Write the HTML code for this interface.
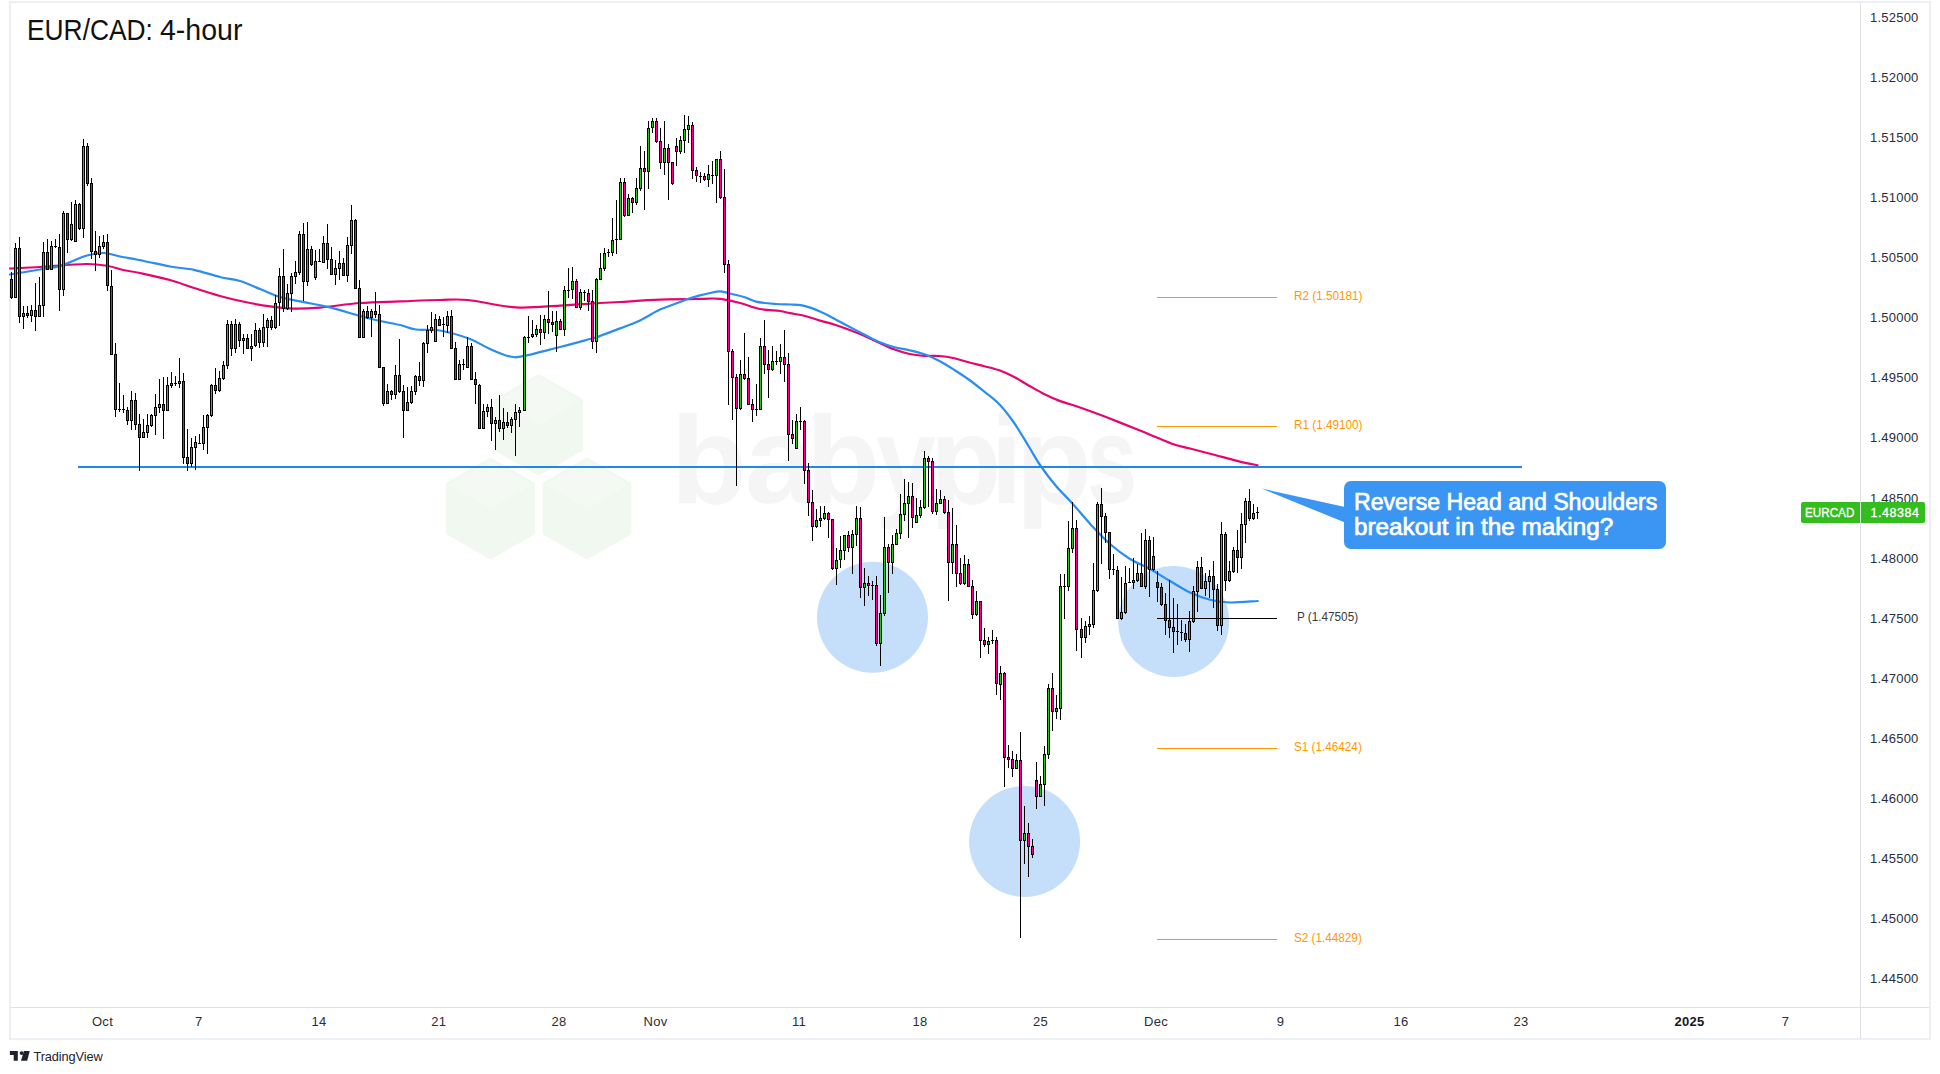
<!DOCTYPE html>
<html lang="en"><head><meta charset="utf-8"><title>EUR/CAD: 4-hour</title>
<style>
html,body{margin:0;padding:0;background:#fff;}
body{width:1940px;height:1074px;position:relative;overflow:hidden;font-family:"Liberation Sans",sans-serif;color:#131722;}
#frame{position:absolute;left:9px;top:1px;width:1918px;height:1035px;border:2px solid #edeff4;box-sizing:content-box;}
#vaxis{position:absolute;left:1860px;top:3px;width:1px;height:1035px;background:#e0e0e3;}
#haxis{position:absolute;left:11px;top:1007px;width:1918px;height:1px;background:#e0e0e3;}
.pl{position:absolute;left:1870px;width:52px;height:16px;line-height:16px;font-size:13px;letter-spacing:0.22px;color:#2a2e39;white-space:nowrap;}
.tl{position:absolute;top:1014px;width:60px;text-align:center;height:16px;line-height:16px;font-size:13px;letter-spacing:0.3px;color:#2a2e39;white-space:nowrap;}
.tl.b{font-weight:bold;color:#131722;}
#title span{position:absolute;top:12.85px;font-size:29px;line-height:34px;color:#111;white-space:nowrap;transform-origin:0 0;}
#t1{left:26.8px;transform:scaleX(0.9086);}
#t2{left:160px;transform:scaleX(0.983);}
svg{position:absolute;left:0;top:0;}
.pvl{position:absolute;left:1157px;width:120px;height:1px;}
.pvt{position:absolute;left:1294px;font-size:12.5px;line-height:16px;height:16px;transform-origin:0 0;transform:scaleX(0.938);white-space:nowrap;}
#callout{position:absolute;left:1344px;top:481px;width:322px;height:68px;border-radius:7px;background:#3b95f3;}
#callout span{position:absolute;left:9.6px;color:#fff;font-size:23px;line-height:24px;white-space:nowrap;transform-origin:0 0;-webkit-text-stroke:0.7px #fff;}
#c1{top:9.1px;transform:scaleX(1.005);}
#c2{top:33.5px;transform:scaleX(1.056);}
#sym{position:absolute;left:1801px;top:502px;width:59px;height:21px;background:#33bd1f;color:#fff;font-size:12.5px;line-height:22.4px;border-radius:2px 0 0 2px;overflow:hidden;-webkit-text-stroke:0.3px #fff;}
#sym span{position:absolute;left:4.2px;transform-origin:0 0;transform:scaleX(0.935);}
#last{position:absolute;left:1861px;top:502px;width:64px;height:21px;background:#33bd1f;color:#fff;font-size:12.5px;line-height:22.4px;border-radius:0 2px 2px 0;overflow:hidden;-webkit-text-stroke:0.3px #fff;}
#last span{position:absolute;left:9.5px;letter-spacing:0.55px;}
#tv{position:absolute;left:33.4px;top:1048px;font-size:12.8px;letter-spacing:-0.1px;line-height:18px;color:#1e222d;white-space:nowrap;}
#wm span{position:absolute;top:389.5px;font-size:125px;line-height:140px;font-weight:bold;color:#f5f5f6;white-space:nowrap;transform-origin:0 0;}
</style></head><body>
<div id="frame"></div>
<div id="wm"><span style="left:670.8px;transform:scaleX(1.0)">b</span><span style="left:744.7px;transform:scaleX(1.0)">a</span><span style="left:806.0px;transform:scaleX(0.97)">b</span><span style="left:875.9px;transform:scaleX(0.86)">y</span><span style="left:930.1px;transform:scaleX(0.93)">p</span><span style="left:990.6px;transform:scaleX(0.9)">i</span><span style="left:1015.5px;transform:scaleX(1.0)">p</span><span style="left:1086.7px;transform:scaleX(0.72)">s</span></div>
<svg width="1940" height="1074" viewBox="0 0 1940 1074">
<g><polygon points="538.7,377.3 580.1,401.1 580.1,448.7 538.7,472.5 497.3,448.7 497.3,401.1" fill="#f0f8ef" stroke="#f0f8ef" stroke-width="6.0" stroke-linejoin="round"/><polygon points="538.7,377.3 580.1,401.1 538.7,424.9 497.3,401.1" fill="#f4faf3"/><polygon points="490.5,460.9 531.9,484.7 531.9,532.3 490.5,556.1 449.1,532.3 449.1,484.7" fill="#f0f8ef" stroke="#f0f8ef" stroke-width="6.0" stroke-linejoin="round"/><polygon points="490.5,460.9 531.9,484.7 490.5,508.5 449.1,484.7" fill="#f4faf3"/><polygon points="587.0,460.9 628.4,484.7 628.4,532.3 587.0,556.1 545.6,532.3 545.6,484.7" fill="#f0f8ef" stroke="#f0f8ef" stroke-width="6.0" stroke-linejoin="round"/><polygon points="587.0,460.9 628.4,484.7 587.0,508.5 545.6,484.7" fill="#f4faf3"/></g>
<g fill="#c5dffa">
<circle cx="872.5" cy="617.3" r="55.5"/>
<circle cx="1024.6" cy="841.4" r="55.5"/>
<circle cx="1173.7" cy="621.4" r="55.5"/>
</g>
<path d="M10 268.5C15.0 268.2 27.3 267.8 40 267C52.7 266.2 74.7 264.2 86 264C97.3 263.8 101.8 265.0 108 266C114.2 267.0 117.7 268.8 123 270C128.3 271.2 132.2 271.3 140 273C147.8 274.7 161.0 277.5 170 280C179.0 282.5 185.7 285.3 194 288C202.3 290.7 210.7 293.5 220 296C229.3 298.5 241.3 301.2 250 303C258.7 304.8 265.0 305.7 272 306.6C279.0 307.5 284.0 308.4 292 308.6C300.0 308.8 308.7 308.5 320 307.6C331.3 306.7 346.7 304.0 360 303C373.3 302.0 386.7 301.9 400 301.4C413.3 300.9 428.7 300.2 440 300C451.3 299.8 455.3 298.8 468 300C480.7 301.2 500.7 306.5 516 307.4C531.3 308.3 546.0 306.3 560 305.6C574.0 304.9 590.0 303.6 600 303C610.0 302.4 610.0 302.6 620 302C630.0 301.4 646.7 300.1 660 299.6C673.3 299.1 690.0 298.9 700 298.8C710.0 298.7 713.3 298.1 720 298.8C726.7 299.5 733.3 301.3 740 303C746.7 304.7 753.3 307.7 760 309C766.7 310.3 775.0 310.3 780 311C785.0 311.7 785.8 312.4 790 313.2C794.2 314.0 800.0 314.8 805 316C810.0 317.2 815.0 319.2 820 320.6C825.0 322.1 829.8 323.1 834.8 324.7C839.8 326.3 844.8 328.1 849.8 330C854.8 331.9 859.7 333.8 864.7 336C869.7 338.2 874.7 340.8 879.7 343C884.7 345.2 889.6 347.7 894.6 349.5C899.6 351.3 904.6 352.9 909.6 354C914.6 355.1 919.5 355.5 924.5 355.8C929.5 356.1 934.5 355.6 939.5 356C944.5 356.4 949.4 357.2 954.4 358.3C959.4 359.4 964.4 361.2 969.4 362.5C974.4 363.8 979.3 364.9 984.3 366.2C989.3 367.5 994.3 368.5 999.3 370.3C1004.3 372.1 1009.2 374.4 1014.2 377C1019.2 379.6 1024.1 382.9 1029.1 385.7C1034.1 388.5 1039.0 391.5 1044 394C1049.0 396.5 1053.0 398.4 1059 400.6C1065.0 402.9 1072.2 404.8 1080 407.5C1087.8 410.2 1096.0 413.1 1106 417C1116.0 420.9 1131.5 427.2 1140 430.6C1148.5 434.0 1151.2 435.3 1156.8 437.6C1162.4 439.9 1168.0 442.5 1173.5 444.3C1179.0 446.1 1183.1 446.7 1190 448.5C1196.9 450.3 1206.7 452.8 1215 455C1223.3 457.2 1232.9 459.9 1240 461.6C1247.1 463.3 1254.6 464.7 1257.5 465.3" fill="none" stroke="#e60570" stroke-width="2.2" stroke-linejoin="round" stroke-linecap="round"/>
<path d="M10 274.5C15.0 273.7 31.7 270.9 40 269.5C48.3 268.1 52.3 268.3 60 266C67.7 263.7 78.7 257.9 86 255.7C93.3 253.5 98.3 252.9 104 253C109.7 253.1 113.3 255.2 120 256.5C126.7 257.8 135.7 259.3 144 261C152.3 262.7 161.7 265.0 170 266.5C178.3 268.0 185.7 268.1 194 269.8C202.3 271.6 212.3 275.1 220 277C227.7 278.9 233.3 279.0 240 281C246.7 283.0 253.3 286.3 260 289C266.7 291.7 273.3 294.9 280 297C286.7 299.1 291.7 299.7 300 301.4C308.3 303.1 320.0 305.0 330 307.4C340.0 309.8 351.7 313.7 360 316C368.3 318.3 373.3 319.5 380 321C386.7 322.5 394.0 323.6 400 325C406.0 326.4 409.3 328.6 416 329.5C422.7 330.4 431.0 328.9 440 330.5C449.0 332.1 461.7 335.9 470 339C478.3 342.1 483.3 346.1 490 349C496.7 351.9 504.3 355.3 510 356.5C515.7 357.7 515.7 357.6 524 356C532.3 354.4 549.0 349.8 560 347C571.0 344.2 583.3 340.8 590 339C596.7 337.2 595.0 337.8 600 336C605.0 334.2 613.3 331.0 620 328.4C626.7 325.8 633.3 323.5 640 320.4C646.7 317.3 653.3 312.7 660 309.6C666.7 306.5 675.0 303.9 680 302C685.0 300.1 686.7 299.3 690 298.2C693.3 297.1 696.7 296.3 700 295.4C703.3 294.5 706.7 293.7 710 293C713.3 292.3 717.0 291.4 720 291.4C723.0 291.4 724.0 292.1 728 293C732.0 293.9 739.3 295.6 744 297C748.7 298.4 750.7 300.4 756 301.6C761.3 302.8 770.3 303.5 776 304C781.7 304.5 785.7 304.3 790 304.5C794.3 304.7 797.0 304.2 802 305.4C807.0 306.5 814.5 309.1 820 311.4C825.5 313.7 829.8 316.4 834.8 319C839.8 321.6 844.8 324.4 849.8 327C854.8 329.6 859.7 332.2 864.7 334.8C869.7 337.4 874.7 340.2 879.7 342.3C884.7 344.4 889.6 345.9 894.6 347.2C899.6 348.5 904.6 349.0 909.6 350.2C914.6 351.4 919.5 352.5 924.5 354.3C929.5 356.1 934.5 358.4 939.5 361C944.5 363.6 949.4 366.8 954.4 370C959.4 373.2 964.4 376.4 969.4 380C974.4 383.6 979.3 387.6 984.3 391.6C989.3 395.7 994.3 399.1 999.3 404.3C1004.3 409.5 1009.2 415.9 1014.2 423C1019.2 430.1 1024.8 440.0 1029.1 447C1033.4 454.0 1035.5 458.5 1040 465C1044.5 471.5 1050.7 479.7 1056 486C1061.3 492.3 1066.0 496.3 1072 503C1078.0 509.7 1085.7 519.2 1092 526C1098.3 532.8 1103.7 538.5 1110 544C1116.3 549.5 1123.3 554.8 1130 559C1136.7 563.2 1143.3 565.3 1150 569C1156.7 572.7 1163.3 577.1 1170 581C1176.7 584.9 1183.3 589.4 1190 592.5C1196.7 595.6 1203.3 598.0 1210 599.7C1216.7 601.4 1222.0 602.3 1230 602.5C1238.0 602.7 1253.2 601.2 1257.8 601" fill="none" stroke="#2a8df1" stroke-width="2.2" stroke-linejoin="round" stroke-linecap="round"/>
<rect x="78" y="466" width="1444" height="2" fill="#2087f0"/>
<g shape-rendering="crispEdges">
<path d="M11 272h1V299h-1zM15 243h1V298h-1zM19 237h1V323h-1zM23 306h1V329h-1zM27 306h1V318h-1zM31 305h1V322h-1zM35 283h1V331h-1zM39 277h1V317h-1zM43 242h1V317h-1zM47 239h1V270h-1zM51 241h1V270h-1zM55 239h1V248h-1zM59 234h1V311h-1zM63 211h1V296h-1zM67 213h1V253h-1zM71 202h1V241h-1zM75 200h1V242h-1zM79 203h1V230h-1zM83 139h1V238h-1zM87 143h1V186h-1zM91 178h1V259h-1zM95 231h1V271h-1zM99 236h1V258h-1zM103 235h1V249h-1zM107 234h1V291h-1zM111 270h1V355h-1zM115 343h1V417h-1zM119 383h1V412h-1zM123 395h1V413h-1zM127 407h1V425h-1zM131 391h1V430h-1zM135 393h1V430h-1zM139 414h1V471h-1zM143 419h1V438h-1zM147 414h1V438h-1zM151 414h1V427h-1zM155 394h1V435h-1zM159 379h1V413h-1zM163 377h1V439h-1zM167 377h1V411h-1zM171 372h1V388h-1zM175 376h1V386h-1zM179 358h1V388h-1zM183 373h1V464h-1zM187 429h1V471h-1zM191 438h1V467h-1zM195 436h1V470h-1zM199 434h1V444h-1zM203 415h1V450h-1zM207 414h1V454h-1zM211 384h1V417h-1zM215 368h1V394h-1zM219 371h1V392h-1zM223 361h1V380h-1zM227 320h1V369h-1zM231 321h1V356h-1zM235 319h1V353h-1zM239 322h1V347h-1zM243 334h1V354h-1zM247 334h1V349h-1zM251 334h1V361h-1zM255 323h1V347h-1zM259 328h1V348h-1zM263 314h1V347h-1zM267 318h1V347h-1zM271 316h1V330h-1zM275 295h1V329h-1zM279 268h1V326h-1zM283 249h1V312h-1zM287 284h1V310h-1zM291 273h1V312h-1zM295 261h1V284h-1zM299 231h1V275h-1zM303 223h1V301h-1zM307 222h1V286h-1zM311 246h1V266h-1zM315 250h1V280h-1zM319 249h1V262h-1zM323 236h1V263h-1zM327 224h1V269h-1zM331 247h1V275h-1zM335 260h1V285h-1zM339 251h1V280h-1zM343 258h1V276h-1zM347 237h1V282h-1zM351 205h1V254h-1zM355 219h1V289h-1zM359 280h1V338h-1zM363 309h1V338h-1zM367 306h1V319h-1zM371 309h1V337h-1zM375 292h1V318h-1zM379 305h1V368h-1zM383 367h1V406h-1zM387 384h1V404h-1zM391 390h1V400h-1zM395 365h1V399h-1zM399 339h1V393h-1zM403 385h1V438h-1zM407 387h1V411h-1zM411 386h1V404h-1zM415 375h1V395h-1zM419 362h1V386h-1zM423 342h1V387h-1zM427 325h1V353h-1zM431 312h1V333h-1zM435 314h1V342h-1zM439 316h1V326h-1zM443 317h1V337h-1zM447 311h1V333h-1zM451 310h1V349h-1zM455 342h1V380h-1zM459 360h1V380h-1zM463 359h1V370h-1zM467 337h1V368h-1zM471 343h1V380h-1zM475 372h1V404h-1zM479 384h1V429h-1zM483 404h1V429h-1zM487 404h1V417h-1zM491 399h1V441h-1zM495 417h1V450h-1zM499 395h1V432h-1zM503 408h1V440h-1zM507 412h1V428h-1zM511 417h1V433h-1zM515 404h1V456h-1zM519 407h1V427h-1zM524 336h1V411h-1zM528 316h1V343h-1zM532 320h1V338h-1zM536 325h1V337h-1zM540 315h1V345h-1zM544 315h1V339h-1zM548 291h1V334h-1zM552 311h1V332h-1zM556 311h1V352h-1zM560 319h1V330h-1zM564 286h1V336h-1zM568 268h1V298h-1zM572 267h1V299h-1zM576 279h1V308h-1zM580 289h1V310h-1zM584 290h1V301h-1zM588 289h1V311h-1zM592 290h1V349h-1zM596 278h1V353h-1zM600 253h1V280h-1zM604 248h1V271h-1zM608 249h1V257h-1zM612 218h1V256h-1zM616 200h1V254h-1zM620 178h1V240h-1zM624 178h1V217h-1zM628 194h1V216h-1zM632 197h1V213h-1zM636 178h1V205h-1zM640 146h1V191h-1zM644 151h1V210h-1zM648 121h1V189h-1zM652 118h1V133h-1zM656 118h1V143h-1zM660 128h1V169h-1zM664 121h1V175h-1zM668 144h1V200h-1zM672 162h1V185h-1zM676 138h1V166h-1zM680 136h1V154h-1zM684 115h1V153h-1zM688 116h1V143h-1zM692 122h1V179h-1zM696 167h1V182h-1zM700 172h1V183h-1zM704 173h1V181h-1zM708 165h1V187h-1zM712 161h1V184h-1zM716 159h1V203h-1zM720 151h1V199h-1zM724 169h1V273h-1zM728 260h1V405h-1zM732 349h1V420h-1zM736 374h1V486h-1zM740 360h1V410h-1zM744 333h1V380h-1zM748 357h1V405h-1zM752 399h1V422h-1zM756 384h1V416h-1zM760 338h1V410h-1zM764 320h1V374h-1zM768 350h1V398h-1zM772 346h1V371h-1zM776 351h1V365h-1zM780 344h1V374h-1zM784 330h1V382h-1zM788 353h1V461h-1zM792 420h1V444h-1zM796 414h1V449h-1zM800 407h1V430h-1zM804 420h1V484h-1zM808 463h1V516h-1zM812 490h1V541h-1zM816 509h1V528h-1zM820 506h1V527h-1zM824 506h1V520h-1zM828 512h1V538h-1zM832 519h1V570h-1zM836 548h1V585h-1zM840 536h1V568h-1zM844 535h1V560h-1zM848 531h1V552h-1zM852 530h1V574h-1zM856 506h1V546h-1zM860 507h1V598h-1zM864 568h1V606h-1zM868 576h1V596h-1zM872 581h1V600h-1zM876 576h1V646h-1zM880 595h1V666h-1zM884 517h1V616h-1zM888 544h1V593h-1zM892 535h1V574h-1zM896 529h1V545h-1zM900 494h1V539h-1zM904 479h1V521h-1zM908 482h1V538h-1zM912 483h1V528h-1zM916 498h1V523h-1zM920 500h1V518h-1zM924 451h1V509h-1zM928 456h1V507h-1zM932 458h1V514h-1zM936 489h1V515h-1zM940 490h1V504h-1zM944 496h1V514h-1zM948 500h1V601h-1zM952 508h1V574h-1zM956 525h1V587h-1zM960 558h1V585h-1zM964 555h1V585h-1zM968 559h1V587h-1zM972 580h1V619h-1zM976 591h1V616h-1zM980 601h1V658h-1zM984 628h1V647h-1zM988 637h1V654h-1zM992 630h1V644h-1zM996 637h1V695h-1zM1000 666h1V700h-1zM1004 672h1V787h-1zM1008 745h1V768h-1zM1012 751h1V777h-1zM1016 754h1V769h-1zM1020 732h1V938h-1zM1024 806h1V864h-1zM1028 823h1V877h-1zM1032 839h1V858h-1zM1036 762h1V809h-1zM1040 776h1V797h-1zM1044 746h1V806h-1zM1048 684h1V759h-1zM1052 673h1V731h-1zM1056 695h1V719h-1zM1060 574h1V720h-1zM1064 574h1V619h-1zM1068 521h1V591h-1zM1072 502h1V553h-1zM1076 520h1V651h-1zM1081 618h1V658h-1zM1085 621h1V643h-1zM1089 616h1V635h-1zM1093 563h1V628h-1zM1097 502h1V592h-1zM1101 488h1V564h-1zM1105 513h1V543h-1zM1109 532h1V579h-1zM1113 554h1V575h-1zM1117 566h1V619h-1zM1121 577h1V620h-1zM1125 566h1V614h-1zM1129 568h1V583h-1zM1133 558h1V589h-1zM1137 564h1V582h-1zM1141 533h1V587h-1zM1145 529h1V589h-1zM1149 536h1V597h-1zM1153 537h1V571h-1zM1157 571h1V602h-1zM1161 583h1V606h-1zM1165 593h1V635h-1zM1169 580h1V638h-1zM1173 598h1V653h-1zM1177 604h1V645h-1zM1181 620h1V641h-1zM1185 624h1V642h-1zM1189 611h1V652h-1zM1193 586h1V623h-1zM1197 561h1V612h-1zM1201 557h1V589h-1zM1205 573h1V596h-1zM1209 570h1V598h-1zM1213 561h1V608h-1zM1217 584h1V631h-1zM1221 522h1V635h-1zM1225 532h1V591h-1zM1229 561h1V582h-1zM1233 547h1V573h-1zM1237 530h1V573h-1zM1241 513h1V569h-1zM1245 498h1V543h-1zM1249 489h1V521h-1zM1253 504h1V520h-1zM1257 507h1V519h-1z" fill="#000"/>
<path d="M10 279h3V298h-3zM14 248h3V298h-3zM18 248h3V317h-3zM22 313h3V317h-3zM26 313h3V316h-3zM30 310h3V316h-3zM34 310h3V317h-3zM38 305h3V317h-3zM42 252h3V306h-3zM46 252h3V270h-3zM50 246h3V270h-3zM54 246h3v1h-3zM58 247h3V290h-3zM62 213h3V290h-3zM66 213h3V240h-3zM70 224h3V240h-3zM74 204h3V242h-3zM78 204h3V229h-3zM82 146h3V229h-3zM86 146h3V184h-3zM90 183h3V252h-3zM94 251h3V255h-3zM98 246h3V255h-3zM102 242h3V247h-3zM106 242h3V286h-3zM110 286h3V355h-3zM114 354h3V410h-3zM118 409h3v1h-3zM122 409h3v1h-3zM126 410h3V421h-3zM130 400h3V421h-3zM134 400h3V425h-3zM138 424h3V438h-3zM142 432h3V438h-3zM146 425h3V433h-3zM150 415h3V426h-3zM154 407h3V416h-3zM158 404h3V408h-3zM162 404h3V411h-3zM166 385h3V411h-3zM170 383h3V386h-3zM174 383h3v1h-3zM178 381h3V384h-3zM182 381h3V458h-3zM186 457h3V464h-3zM190 447h3V464h-3zM194 442h3V448h-3zM198 443h3v1h-3zM202 427h3V444h-3zM206 415h3V428h-3zM210 385h3V416h-3zM214 385h3V391h-3zM218 378h3V391h-3zM222 365h3V379h-3zM226 324h3V366h-3zM230 324h3V349h-3zM234 324h3V349h-3zM238 324h3V341h-3zM242 338h3V341h-3zM246 338h3V349h-3zM250 346h3V349h-3zM254 330h3V346h-3zM258 330h3V343h-3zM262 327h3V343h-3zM266 320h3V328h-3zM270 320h3V328h-3zM274 303h3V328h-3zM278 276h3V303h-3zM282 276h3V309h-3zM286 293h3V309h-3zM290 276h3V294h-3zM294 272h3V277h-3zM298 234h3V273h-3zM302 234h3V282h-3zM306 249h3V282h-3zM310 249h3V265h-3zM314 261h3V278h-3zM318 261h3v1h-3zM322 243h3V263h-3zM326 243h3V260h-3zM330 259h3V275h-3zM334 268h3V275h-3zM338 263h3V269h-3zM342 263h3V276h-3zM346 245h3V276h-3zM350 220h3V246h-3zM354 220h3V289h-3zM358 288h3V338h-3zM362 311h3V338h-3zM366 311h3V318h-3zM370 311h3V318h-3zM374 311h3V315h-3zM378 314h3V368h-3zM382 367h3V404h-3zM386 391h3V404h-3zM390 391h3V395h-3zM394 375h3V395h-3zM398 375h3V392h-3zM402 391h3V411h-3zM406 402h3V411h-3zM410 391h3V403h-3zM414 376h3V392h-3zM418 376h3V381h-3zM422 343h3V381h-3zM426 330h3V344h-3zM430 327h3V331h-3zM434 319h3V342h-3zM438 319h3V326h-3zM442 324h3v1h-3zM446 316h3V326h-3zM450 316h3V349h-3zM454 348h3V380h-3zM458 364h3V380h-3zM462 364h3v1h-3zM466 346h3V368h-3zM470 346h3V380h-3zM474 379h3V385h-3zM478 385h3V429h-3zM482 411h3V429h-3zM486 407h3V412h-3zM490 407h3V424h-3zM494 420h3V424h-3zM498 420h3V429h-3zM502 422h3V429h-3zM506 422h3V426h-3zM510 419h3V426h-3zM514 412h3V420h-3zM518 410h3V413h-3zM523 337h3V411h-3zM527 337h3v1h-3zM531 334h3V337h-3zM535 329h3V335h-3zM539 329h3V333h-3zM543 319h3V333h-3zM547 319h3V323h-3zM551 322h3V325h-3zM555 321h3V336h-3zM559 321h3V330h-3zM563 290h3V330h-3zM567 290h3v1h-3zM571 281h3V290h-3zM575 281h3V308h-3zM579 292h3V308h-3zM583 292h3v1h-3zM587 293h3V302h-3zM591 301h3V342h-3zM595 279h3V342h-3zM599 268h3V280h-3zM603 253h3V269h-3zM607 252h3v1h-3zM611 240h3V253h-3zM615 239h3v1h-3zM619 182h3V240h-3zM623 182h3V216h-3zM627 198h3V216h-3zM631 198h3V203h-3zM635 188h3V203h-3zM639 168h3V189h-3zM643 168h3V172h-3zM647 128h3V172h-3zM651 121h3V128h-3zM655 121h3V142h-3zM659 141h3V163h-3zM663 148h3V163h-3zM667 148h3V163h-3zM671 162h3V184h-3zM675 146h3V152h-3zM679 140h3V152h-3zM683 129h3V141h-3zM687 125h3V130h-3zM691 125h3V171h-3zM695 170h3V176h-3zM699 176h3v1h-3zM703 176h3V180h-3zM707 174h3V180h-3zM711 175h3v1h-3zM715 159h3V176h-3zM719 159h3V198h-3zM723 197h3V265h-3zM727 264h3V352h-3zM731 351h3V378h-3zM735 377h3V409h-3zM739 374h3V409h-3zM743 374h3V379h-3zM747 378h3V405h-3zM751 404h3V410h-3zM755 409h3v1h-3zM759 346h3V410h-3zM763 346h3V365h-3zM767 364h3V370h-3zM771 361h3V370h-3zM775 361h3v1h-3zM779 357h3V362h-3zM783 357h3V365h-3zM787 364h3V435h-3zM791 434h3V439h-3zM795 421h3V449h-3zM799 421h3v1h-3zM803 421h3V471h-3zM807 470h3V503h-3zM811 502h3V527h-3zM815 520h3V527h-3zM819 518h3V521h-3zM823 513h3V519h-3zM827 513h3V520h-3zM831 519h3V569h-3zM835 560h3V569h-3zM839 550h3V560h-3zM843 535h3V551h-3zM847 535h3V548h-3zM851 534h3V548h-3zM855 518h3V535h-3zM859 518h3V588h-3zM863 583h3V588h-3zM867 583h3V586h-3zM871 585h3v1h-3zM875 585h3V644h-3zM879 613h3V644h-3zM883 547h3V614h-3zM887 547h3V563h-3zM891 544h3V563h-3zM895 533h3V545h-3zM899 514h3V534h-3zM903 503h3V515h-3zM907 496h3V504h-3zM911 496h3V518h-3zM915 515h3V523h-3zM919 507h3V516h-3zM923 458h3V508h-3zM927 458h3V462h-3zM931 461h3V512h-3zM935 503h3V512h-3zM939 499h3V504h-3zM943 499h3V513h-3zM947 512h3V563h-3zM951 544h3V563h-3zM955 544h3V574h-3zM959 573h3V584h-3zM963 564h3V584h-3zM967 564h3V587h-3zM971 586h3V615h-3zM975 601h3V615h-3zM979 601h3V641h-3zM983 640h3V645h-3zM987 641h3V645h-3zM991 640h3v1h-3zM995 640h3V684h-3zM999 673h3V685h-3zM1003 673h3V758h-3zM1007 757h3V760h-3zM1011 759h3V769h-3zM1015 760h3V769h-3zM1019 760h3V841h-3zM1023 833h3V841h-3zM1027 833h3V847h-3zM1031 846h3V855h-3zM1035 780h3V797h-3zM1039 784h3V797h-3zM1043 754h3V785h-3zM1047 688h3V755h-3zM1051 688h3V712h-3zM1055 708h3V712h-3zM1059 586h3V709h-3zM1063 586h3v1h-3zM1067 548h3V587h-3zM1071 528h3V549h-3zM1075 528h3V630h-3zM1080 629h3V638h-3zM1084 626h3V638h-3zM1088 624h3V627h-3zM1092 590h3V625h-3zM1096 504h3V591h-3zM1100 504h3V517h-3zM1104 516h3V533h-3zM1108 532h3V570h-3zM1112 569h3v1h-3zM1116 570h3V619h-3zM1120 612h3V619h-3zM1124 583h3V613h-3zM1128 582h3v1h-3zM1132 580h3V583h-3zM1136 573h3V581h-3zM1140 573h3V587h-3zM1144 540h3V587h-3zM1148 540h3V570h-3zM1152 556h3V570h-3zM1156 582h3V588h-3zM1160 587h3V605h-3zM1164 604h3V621h-3zM1168 620h3V628h-3zM1172 627h3V632h-3zM1176 631h3v1h-3zM1180 632h3v1h-3zM1184 633h3V640h-3zM1188 621h3V640h-3zM1192 591h3V622h-3zM1196 567h3V592h-3zM1200 567h3V589h-3zM1204 581h3V589h-3zM1208 576h3V582h-3zM1212 576h3V590h-3zM1216 589h3V626h-3zM1220 534h3V626h-3zM1224 534h3V581h-3zM1228 571h3V581h-3zM1232 550h3V572h-3zM1236 550h3V558h-3zM1240 524h3V558h-3zM1244 501h3V525h-3zM1248 501h3V519h-3zM1252 513h3V519h-3zM1256 512h3v1h-3z" fill="#000"/>
<path d="M15 249h1V297h-1zM23 314h1V316h-1zM31 311h1V315h-1zM39 306h1V316h-1zM43 253h1V305h-1zM51 247h1V269h-1zM63 214h1V289h-1zM71 225h1V239h-1zM75 205h1V241h-1zM83 147h1V228h-1zM99 247h1V254h-1zM103 243h1V246h-1zM131 401h1V420h-1zM143 433h1V437h-1zM147 426h1V432h-1zM151 416h1V425h-1zM155 408h1V415h-1zM159 405h1V407h-1zM167 386h1V410h-1zM171 384h1V385h-1zM179 382h1V383h-1zM191 448h1V463h-1zM195 443h1V447h-1zM203 428h1V443h-1zM207 416h1V427h-1zM211 386h1V415h-1zM219 379h1V390h-1zM223 366h1V378h-1zM227 325h1V365h-1zM235 325h1V348h-1zM243 339h1V340h-1zM251 347h1V348h-1zM255 331h1V345h-1zM263 328h1V342h-1zM267 321h1V327h-1zM275 304h1V327h-1zM279 277h1V302h-1zM287 294h1V308h-1zM291 277h1V293h-1zM295 273h1V276h-1zM299 235h1V272h-1zM307 250h1V281h-1zM315 262h1V277h-1zM323 244h1V262h-1zM335 269h1V274h-1zM339 264h1V268h-1zM347 246h1V275h-1zM351 221h1V245h-1zM363 312h1V337h-1zM371 312h1V317h-1zM387 392h1V403h-1zM395 376h1V394h-1zM407 403h1V410h-1zM411 392h1V402h-1zM415 377h1V391h-1zM423 344h1V380h-1zM427 331h1V343h-1zM431 328h1V330h-1zM435 320h1V341h-1zM447 317h1V325h-1zM459 365h1V379h-1zM467 347h1V367h-1zM483 412h1V428h-1zM487 408h1V411h-1zM495 421h1V423h-1zM503 423h1V428h-1zM511 420h1V425h-1zM515 413h1V419h-1zM519 411h1V412h-1zM524 338h1V410h-1zM532 335h1V336h-1zM536 330h1V334h-1zM544 320h1V332h-1zM556 322h1V335h-1zM564 291h1V329h-1zM572 282h1V289h-1zM580 293h1V307h-1zM596 280h1V341h-1zM600 269h1V279h-1zM604 254h1V268h-1zM612 241h1V252h-1zM620 183h1V239h-1zM628 199h1V215h-1zM636 189h1V202h-1zM640 169h1V188h-1zM648 129h1V171h-1zM652 122h1V127h-1zM664 149h1V162h-1zM680 141h1V151h-1zM684 130h1V140h-1zM688 126h1V129h-1zM708 175h1V179h-1zM716 160h1V175h-1zM740 375h1V408h-1zM760 347h1V409h-1zM772 362h1V369h-1zM780 358h1V361h-1zM796 422h1V448h-1zM816 521h1V526h-1zM820 519h1V520h-1zM824 514h1V518h-1zM836 561h1V568h-1zM840 551h1V559h-1zM844 536h1V550h-1zM852 535h1V547h-1zM856 519h1V534h-1zM864 584h1V587h-1zM880 614h1V643h-1zM884 548h1V613h-1zM892 545h1V562h-1zM896 534h1V544h-1zM900 515h1V533h-1zM904 504h1V514h-1zM908 497h1V503h-1zM916 516h1V522h-1zM920 508h1V515h-1zM924 459h1V507h-1zM936 504h1V511h-1zM940 500h1V503h-1zM952 545h1V562h-1zM964 565h1V583h-1zM976 602h1V614h-1zM988 642h1V644h-1zM1000 674h1V684h-1zM1016 761h1V768h-1zM1024 834h1V840h-1zM1040 785h1V796h-1zM1044 755h1V784h-1zM1048 689h1V754h-1zM1056 709h1V711h-1zM1060 587h1V708h-1zM1068 549h1V586h-1zM1072 529h1V548h-1zM1085 627h1V637h-1zM1089 625h1V626h-1zM1093 591h1V624h-1zM1097 505h1V590h-1zM1121 613h1V618h-1zM1125 584h1V612h-1zM1133 581h1V582h-1zM1137 574h1V580h-1zM1145 541h1V586h-1zM1153 557h1V569h-1zM1189 622h1V639h-1zM1193 592h1V621h-1zM1197 568h1V591h-1zM1205 582h1V588h-1zM1209 577h1V581h-1zM1221 535h1V625h-1zM1229 572h1V580h-1zM1233 551h1V571h-1zM1241 525h1V557h-1zM1245 502h1V524h-1zM1253 514h1V518h-1z" fill="#33c01f"/>
<path d="M11 280h1V297h-1zM19 249h1V316h-1zM27 314h1V315h-1zM35 311h1V316h-1zM47 253h1V269h-1zM59 248h1V289h-1zM67 214h1V239h-1zM79 205h1V228h-1zM87 147h1V183h-1zM91 184h1V251h-1zM95 252h1V254h-1zM107 243h1V285h-1zM111 287h1V354h-1zM115 355h1V409h-1zM127 411h1V420h-1zM135 401h1V424h-1zM139 425h1V437h-1zM163 405h1V410h-1zM183 382h1V457h-1zM187 458h1V463h-1zM215 386h1V390h-1zM231 325h1V348h-1zM239 325h1V340h-1zM247 339h1V348h-1zM259 331h1V342h-1zM271 321h1V327h-1zM283 277h1V308h-1zM303 235h1V281h-1zM311 250h1V264h-1zM327 244h1V259h-1zM331 260h1V274h-1zM343 264h1V275h-1zM355 221h1V288h-1zM359 289h1V337h-1zM367 312h1V317h-1zM375 312h1V314h-1zM379 315h1V367h-1zM383 368h1V403h-1zM391 392h1V394h-1zM399 376h1V391h-1zM403 392h1V410h-1zM419 377h1V380h-1zM439 320h1V325h-1zM451 317h1V348h-1zM455 349h1V379h-1zM471 347h1V379h-1zM475 380h1V384h-1zM479 386h1V428h-1zM491 408h1V423h-1zM499 421h1V428h-1zM507 423h1V425h-1zM540 330h1V332h-1zM548 320h1V322h-1zM552 323h1V324h-1zM560 322h1V329h-1zM576 282h1V307h-1zM588 294h1V301h-1zM592 302h1V341h-1zM624 183h1V215h-1zM632 199h1V202h-1zM644 169h1V171h-1zM656 122h1V141h-1zM660 142h1V162h-1zM668 149h1V162h-1zM672 163h1V183h-1zM676 147h1V151h-1zM692 126h1V170h-1zM696 171h1V175h-1zM704 177h1V179h-1zM720 160h1V197h-1zM724 198h1V264h-1zM728 265h1V351h-1zM732 352h1V377h-1zM736 378h1V408h-1zM744 375h1V378h-1zM748 379h1V404h-1zM752 405h1V409h-1zM764 347h1V364h-1zM768 365h1V369h-1zM784 358h1V364h-1zM788 365h1V434h-1zM792 435h1V438h-1zM804 422h1V470h-1zM808 471h1V502h-1zM812 503h1V526h-1zM828 514h1V519h-1zM832 520h1V568h-1zM848 536h1V547h-1zM860 519h1V587h-1zM868 584h1V585h-1zM876 586h1V643h-1zM888 548h1V562h-1zM912 497h1V517h-1zM928 459h1V461h-1zM932 462h1V511h-1zM944 500h1V512h-1zM948 513h1V562h-1zM956 545h1V573h-1zM960 574h1V583h-1zM968 565h1V586h-1zM972 587h1V614h-1zM980 602h1V640h-1zM984 641h1V644h-1zM996 641h1V683h-1zM1004 674h1V757h-1zM1008 758h1V759h-1zM1012 760h1V768h-1zM1020 761h1V840h-1zM1028 834h1V846h-1zM1032 847h1V854h-1zM1036 781h1V796h-1zM1052 689h1V711h-1zM1076 529h1V629h-1zM1081 630h1V637h-1zM1101 505h1V516h-1zM1105 517h1V532h-1zM1109 533h1V569h-1zM1117 571h1V618h-1zM1141 574h1V586h-1zM1149 541h1V569h-1zM1157 583h1V587h-1zM1161 588h1V604h-1zM1165 605h1V620h-1zM1169 621h1V627h-1zM1173 628h1V631h-1zM1185 634h1V639h-1zM1201 568h1V588h-1zM1213 577h1V589h-1zM1217 590h1V625h-1zM1225 535h1V580h-1zM1237 551h1V557h-1zM1249 502h1V518h-1z" fill="#ff0080"/>
</g>
<polygon points="1261.5,488.5 1345,507 1345,522.6" fill="#3b95f3"/>
<g fill="#1e222d" transform="translate(9.9,1050.9)">
<path d="M0 0h7.9v9.9H3.8V4.1H0z"/><circle cx="11.7" cy="2.2" r="1.9"/><path d="M14 0h5.8l-2.5 9.9h-6.2z"/>
</g>
</svg>
<div id="vaxis"></div><div id="haxis"></div>
<div id="title"><span id="t1">EUR/CAD: </span><span id="t2">4-hour</span></div>
<div class="pl" style="top:10.0px">1.52500</div>
<div class="pl" style="top:70.1px">1.52000</div>
<div class="pl" style="top:130.1px">1.51500</div>
<div class="pl" style="top:190.2px">1.51000</div>
<div class="pl" style="top:250.2px">1.50500</div>
<div class="pl" style="top:310.3px">1.50000</div>
<div class="pl" style="top:370.4px">1.49500</div>
<div class="pl" style="top:430.4px">1.49000</div>
<div class="pl" style="top:490.5px">1.48500</div>
<div class="pl" style="top:550.5px">1.48000</div>
<div class="pl" style="top:610.6px">1.47500</div>
<div class="pl" style="top:670.7px">1.47000</div>
<div class="pl" style="top:730.7px">1.46500</div>
<div class="pl" style="top:790.8px">1.46000</div>
<div class="pl" style="top:850.8px">1.45500</div>
<div class="pl" style="top:910.9px">1.45000</div>
<div class="pl" style="top:971.0px">1.44500</div>

<div class="tl" style="left:72.5px">Oct</div>
<div class="tl" style="left:168.7px">7</div>
<div class="tl" style="left:289.0px">14</div>
<div class="tl" style="left:408.7px">21</div>
<div class="tl" style="left:529.0px">28</div>
<div class="tl" style="left:625.5px">Nov</div>
<div class="tl" style="left:769.0px">11</div>
<div class="tl" style="left:890.0px">18</div>
<div class="tl" style="left:1010.5px">25</div>
<div class="tl" style="left:1126.0px">Dec</div>
<div class="tl" style="left:1250.5px">9</div>
<div class="tl" style="left:1371.0px">16</div>
<div class="tl" style="left:1491.0px">23</div>
<div class="tl b" style="left:1659.6px">2025</div>
<div class="tl" style="left:1755.4px">7</div>

<div class="pvl" style="top:296.5px;background:#ff9800"></div><div class="pvt" style="top:287.7px;left:1293.5px;color:#ff9800">R2 (1.50181)</div>
<div class="pvl" style="top:425.5px;background:#ff9800"></div><div class="pvt" style="top:416.7px;left:1293.5px;color:#ff9800">R1 (1.49100)</div>
<div class="pvl" style="top:617.5px;background:#000"></div><div class="pvt" style="top:608.7px;left:1297px;color:#3a3a3a">P (1.47505)</div>
<div class="pvl" style="top:747.5px;background:#ff9800"></div><div class="pvt" style="top:738.7px;left:1293.5px;color:#ff9800">S1 (1.46424)</div>
<div class="pvl" style="top:938.5px;background:#ff9800"></div><div class="pvt" style="top:929.7px;left:1293.5px;color:#ff9800">S2 (1.44829)</div>

<div id="callout"><span id="c1">Reverse Head and Shoulders </span><span id="c2">breakout in the making?</span></div>
<div id="sym"><span>EURCAD</span></div>
<div id="last"><span>1.48384</span></div>
<div id="tv">TradingView</div>
</body></html>
